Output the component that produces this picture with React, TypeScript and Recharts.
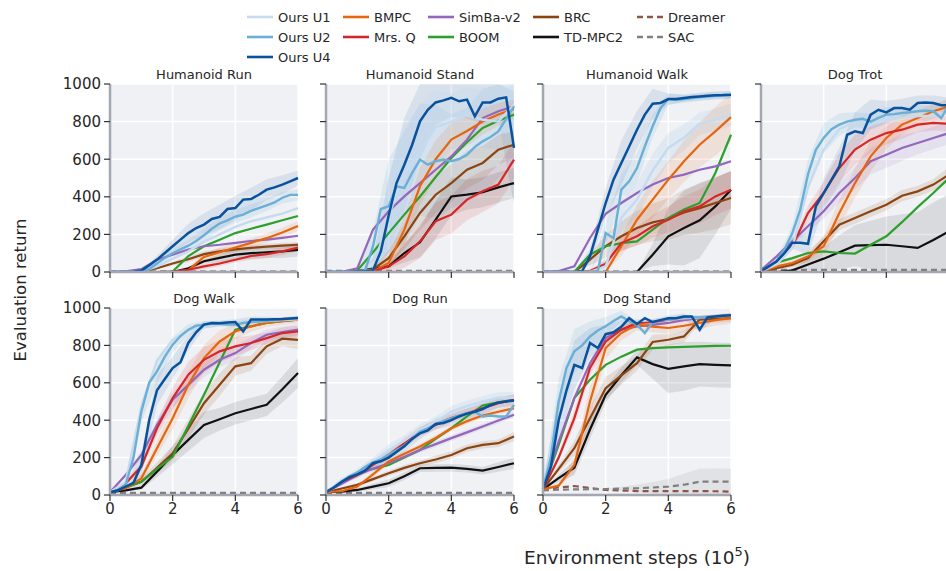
import React from "react";
import { ComposedChart, Line, Area, XAxis, YAxis, CartesianGrid } from "recharts";

// evaluation points (10^5 env steps)
const STEPS = [0, 0.5, 1, 1.5, 2, 2.5, 3, 3.5, 4, 4.5, 5, 5.5, 6];
const FINE_STEPS = [0, 0.25, 0.5, 0.75, 1, 1.25, 1.5, 1.75, 2, 2.25, 2.5, 2.75, 3, 3.25, 3.5, 3.75, 4, 4.25, 4.5, 4.75, 5, 5.25, 5.5, 5.75, 6];
const X_TICKS = [0, 2, 4, 6];
const Y_TICKS = [0, 200, 400, 600, 800, 1000];

const FONT = "'DejaVu Sans', sans-serif";

type Series = { key: string; name: string; color: string; dash?: string; width: number };

const SERIES: Series[] = [
  { key: "dreamer", name: "Dreamer", color: "#8c564b", dash: "6 4", width: 2.2 },
  { key: "sac", name: "SAC", color: "#7f7f7f", dash: "6 4", width: 2.2 },
  { key: "tdmpc", name: "TD-MPC2", color: "#111111", width: 2.2 },
  { key: "brc", name: "BRC", color: "#8b4513", width: 2.2 },
  { key: "boom", name: "BOOM", color: "#2ca02c", width: 2.2 },
  { key: "simba", name: "SimBa-v2", color: "#9467bd", width: 2.2 },
  { key: "bmpc", name: "BMPC", color: "#e6650f", width: 2.2 },
  { key: "mrsq", name: "Mrs. Q", color: "#d62728", width: 2.2 },
  { key: "u1", name: "Ours U1", color: "#c6dbef", width: 2.4 },
  { key: "u2", name: "Ours U2", color: "#6baed6", width: 2.4 },
  { key: "u4", name: "Ours U4", color: "#08519c", width: 2.5 },
];

const BAND_OPACITY: Record<string, number> = {
  u1: 0.35, u2: 0.15, u4: 0.1, bmpc: 0.12, mrsq: 0.12, simba: 0.12, brc: 0.12, tdmpc: 0.1, sac: 0.12,
};

const LEGEND_COLUMNS = [
  ["u1", "u2", "u4"],
  ["bmpc", "mrsq"],
  ["simba", "boom"],
  ["brc", "tdmpc"],
  ["dreamer", "sac"],
];

type PanelData = {
  title: string;
  coarse: Record<string, number[]>; // on STEPS
  fine: Record<string, number[]>; // on FINE_STEPS
  spread: Record<string, number[]>; // band half-width on STEPS
};

const humanoidRun: PanelData = {
  title: "Humanoid Run",
  coarse: {
    u1: [0, 0, 0, 30, 70, 110, 160, 200, 240, 270, 290, 310, 340],
    bmpc: [0, 0, 0, 0, 0, 10, 80, 105, 130, 155, 180, 210, 245],
    mrsq: [0, 0, 0, 0, 2, 12, 30, 45, 65, 85, 95, 110, 130],
    simba: [0, 3, 15, 65, 92, 120, 137, 145, 155, 165, 172, 182, 193],
    boom: [0, 0, 0, 0, 2, 85, 137, 172, 207, 230, 252, 275, 298],
    brc: [0, 0, 0, 20, 45, 68, 95, 110, 120, 128, 135, 140, 145],
    tdmpc: [0, 0, 0, 0, 0, 20, 57, 75, 92, 100, 105, 110, 118],
    dreamer: [1, 1, 1, 1, 1, 1, 1, 1, 1, 1, 1, 1, 1],
    sac: [2, 2, 2, 2, 2, 2, 2, 2, 2, 2, 2, 2, 2],
  },
  fine: {
    u4: [0, 0, 0, 2, 8, 35, 66, 101, 137, 172, 207, 234, 252, 282, 293, 335, 340, 385, 388, 411, 438, 450, 465, 482, 500],
    u2: [0, 0, 0, 0, 2, 15, 45, 75, 100, 120, 140, 165, 195, 230, 258, 275, 295, 305, 325, 340, 355, 370, 395, 410, 410],
  },
  spread: {
    u4: [0, 0, 0, 20, 35, 50, 60, 65, 65, 60, 55, 50, 40],
    u2: [0, 0, 0, 15, 25, 30, 35, 35, 35, 35, 30, 30, 30],
    bmpc: [0, 0, 0, 0, 0, 10, 20, 25, 25, 25, 25, 25, 25],
    mrsq: [0, 0, 0, 0, 0, 10, 15, 15, 15, 20, 20, 20, 20],
    brc: [0, 0, 0, 5, 10, 15, 15, 15, 15, 15, 15, 15, 15],
    tdmpc: [0, 0, 0, 0, 0, 0, 10, 20, 30, 30, 30, 35, 35],
  },
};

const humanoidStand: PanelData = {
  title: "Humanoid Stand",
  coarse: {
    u1: [0, 0, 0, 10, 300, 520, 640, 770, 800, 835, 810, 800, 890],
    bmpc: [0, 0, 0, 3, 48, 225, 456, 600, 704, 750, 800, 838, 867],
    mrsq: [0, 0, 0, 3, 30, 83, 163, 270, 305, 385, 429, 465, 598],
    simba: [0, 0, 20, 225, 323, 402, 473, 544, 615, 704, 819, 855, 881],
    boom: [0, 0, 8, 105, 207, 305, 402, 505, 606, 690, 766, 805, 837],
    brc: [0, 0, 2, 15, 74, 190, 314, 411, 473, 544, 580, 651, 677],
    tdmpc: [0, 0, 3, 18, 30, 101, 158, 278, 402, 412, 424, 450, 473],
    dreamer: [3, 3, 3, 3, 3, 3, 3, 3, 3, 3, 3, 3, 3],
    sac: [6, 6, 6, 6, 6, 6, 6, 6, 6, 6, 6, 6, 6],
  },
  fine: {
    u4: [0, 0, 0, 0, 2, 3, 10, 110, 300, 473, 571, 677, 801, 863, 902, 913, 926, 908, 917, 828, 902, 902, 922, 929, 660],
    u2: [0, 0, 0, 0, 2, 10, 137, 335, 350, 456, 447, 527, 598, 571, 589, 598, 589, 601, 624, 665, 695, 718, 748, 814, 881],
  },
  spread: {
    u4: [0, 0, 0, 60, 200, 250, 200, 120, 100, 100, 120, 120, 300],
    u2: [0, 0, 0, 80, 250, 300, 300, 300, 250, 250, 280, 250, 300],
    u1: [0, 0, 0, 50, 200, 250, 250, 200, 150, 150, 150, 150, 150],
    bmpc: [0, 0, 0, 10, 40, 80, 100, 100, 90, 80, 70, 60, 50],
    mrsq: [0, 0, 0, 10, 30, 60, 90, 100, 100, 110, 110, 100, 100],
    brc: [0, 0, 0, 10, 40, 70, 90, 100, 100, 100, 90, 80, 70],
    tdmpc: [0, 0, 0, 0, 10, 50, 80, 100, 100, 80, 80, 80, 80],
  },
};

const humanoidWalk: PanelData = {
  title: "Humanoid Walk",
  coarse: {
    u1: [0, 0, 0, 0, 30, 290, 385, 540, 660, 715, 790, 810, 837],
    bmpc: [0, 0, 0, 0, 0, 137, 278, 385, 491, 589, 677, 748, 824],
    mrsq: [0, 0, 0, 5, 44, 154, 190, 243, 278, 323, 349, 402, 438],
    simba: [0, 5, 30, 181, 310, 367, 420, 465, 500, 518, 544, 562, 589],
    boom: [0, 0, 2, 92, 137, 154, 163, 225, 287, 332, 367, 527, 730],
    brc: [0, 0, 0, 66, 137, 190, 234, 264, 282, 317, 340, 367, 394],
    tdmpc: [0, 0, 0, 0, 0, 0, 0, 92, 190, 234, 275, 349, 438],
    dreamer: [1, 1, 1, 1, 1, 1, 1, 1, 1, 1, 1, 1, 1],
    sac: [2, 2, 2, 2, 2, 2, 2, 2, 2, 2, 2, 2, 2],
  },
  fine: {
    u4: [0, 0, 0, 0, 0, 5, 83, 225, 367, 491, 580, 668, 757, 837, 895, 899, 920, 920, 926, 931, 934, 937, 940, 941, 943],
    u2: [0, 0, 0, 0, 0, 0, 0, 5, 207, 180, 438, 482, 553, 668, 775, 872, 920, 915, 920, 925, 930, 933, 937, 939, 941],
  },
  spread: {
    u4: [0, 0, 0, 40, 80, 120, 100, 80, 30, 20, 20, 20, 20],
    u2: [0, 0, 0, 0, 60, 80, 80, 60, 30, 20, 20, 20, 20],
    u1: [0, 0, 0, 0, 40, 80, 90, 90, 80, 70, 60, 60, 60],
    bmpc: [0, 0, 0, 0, 0, 50, 80, 100, 100, 110, 120, 130, 130],
    brc: [0, 0, 0, 30, 60, 80, 90, 100, 110, 120, 130, 140, 140],
    mrsq: [0, 0, 0, 10, 20, 40, 50, 60, 70, 80, 90, 100, 100],
    tdmpc: [0, 0, 0, 0, 0, 0, 0, 60, 150, 200, 200, 150, 100],
  },
};

const dogTrot: PanelData = {
  title: "Dog Trot",
  coarse: {
    u1: [5, 40, 130, 450, 650, 760, 800, 800, 810, 820, 830, 830, 850],
    bmpc: [0, 30, 48, 83, 137, 314, 473, 615, 713, 784, 819, 855, 881],
    mrsq: [10, 48, 137, 314, 420, 553, 651, 704, 739, 757, 784, 793, 789],
    simba: [10, 83, 163, 243, 323, 420, 500, 589, 624, 660, 686, 713, 739],
    boom: [0, 50, 74, 101, 110, 101, 98, 145, 190, 265, 345, 420, 500],
    brc: [0, 20, 39, 74, 163, 252, 287, 323, 358, 406, 429, 465, 518],
    tdmpc: [0, 0, 9, 40, 71, 105, 140, 143, 145, 137, 128, 170, 216],
    dreamer: [10, 10, 10, 10, 10, 10, 10, 10, 10, 10, 10, 10, 10],
    sac: [12, 12, 12, 12, 12, 12, 12, 12, 12, 12, 12, 12, 12],
  },
  fine: {
    u4: [5, 30, 57, 101, 155, 155, 150, 349, 420, 491, 562, 730, 748, 739, 837, 863, 849, 872, 872, 863, 899, 902, 899, 887, 887],
    u2: [5, 30, 60, 120, 207, 330, 520, 650, 713, 760, 784, 800, 810, 815, 800, 820, 837, 840, 846, 850, 855, 858, 855, 819, 890],
  },
  spread: {
    u4: [0, 10, 30, 60, 80, 100, 100, 80, 60, 50, 40, 40, 40],
    u2: [0, 10, 40, 80, 80, 60, 40, 40, 40, 30, 30, 30, 30],
    mrsq: [0, 10, 20, 40, 60, 80, 80, 70, 60, 50, 40, 40, 40],
    bmpc: [0, 10, 20, 30, 50, 70, 80, 80, 60, 50, 40, 40, 40],
    simba: [0, 10, 20, 30, 40, 50, 60, 70, 70, 70, 60, 60, 60],
    brc: [0, 10, 15, 20, 30, 30, 30, 30, 30, 30, 30, 30, 40],
    tdmpc: [0, 0, 5, 30, 60, 90, 110, 130, 150, 170, 190, 200, 200],
  },
};

const dogWalk: PanelData = {
  title: "Dog Walk",
  coarse: {
    u1: [15, 70, 470, 720, 830, 880, 905, 915, 920, 925, 930, 935, 940],
    bmpc: [15, 36, 89, 250, 411, 589, 732, 821, 875, 902, 920, 930, 938],
    mrsq: [15, 63, 152, 357, 518, 643, 723, 768, 795, 813, 839, 866, 875],
    simba: [15, 107, 214, 375, 509, 589, 670, 723, 759, 813, 857, 871, 884],
    boom: [15, 40, 71, 140, 205, 370, 536, 710, 884, 902, 920, 930, 938],
    brc: [15, 40, 71, 145, 223, 355, 491, 590, 688, 705, 795, 836, 830],
    tdmpc: [15, 25, 39, 125, 214, 295, 375, 405, 437, 460, 482, 565, 652],
    dreamer: [10, 10, 10, 10, 10, 10, 10, 10, 10, 10, 10, 10, 10],
    sac: [12, 12, 12, 12, 12, 12, 12, 12, 12, 12, 12, 12, 12],
  },
  fine: {
    u4: [15, 25, 45, 65, 161, 400, 560, 620, 679, 710, 813, 870, 911, 920, 918, 922, 925, 875, 938, 938, 938, 940, 941, 944, 946],
    u2: [15, 25, 54, 200, 446, 600, 661, 740, 804, 850, 884, 905, 911, 915, 915, 912, 911, 920, 925, 928, 932, 935, 938, 942, 946],
  },
  spread: {
    u4: [0, 10, 60, 80, 60, 40, 20, 15, 15, 15, 15, 10, 10],
    u2: [0, 10, 60, 60, 40, 30, 20, 15, 15, 15, 10, 10, 10],
    bmpc: [0, 10, 20, 40, 60, 70, 70, 60, 40, 30, 20, 20, 20],
    mrsq: [0, 10, 20, 40, 60, 70, 70, 60, 50, 40, 30, 30, 30],
    simba: [0, 10, 20, 30, 40, 40, 40, 40, 40, 30, 30, 30, 30],
    brc: [0, 10, 20, 30, 40, 50, 60, 60, 50, 40, 40, 40, 50],
    tdmpc: [0, 5, 10, 30, 50, 60, 70, 60, 60, 60, 60, 70, 80],
  },
};

const dogRun: PanelData = {
  title: "Dog Run",
  coarse: {
    u1: [15, 80, 120, 175, 240, 290, 350, 390, 446, 475, 500, 520, 520],
    bmpc: [15, 20, 45, 110, 179, 220, 259, 305, 357, 395, 425, 445, 464],
    mrsq: [15, 71, 107, 161, 214, 277, 339, 375, 411, 437, 464, 491, 509],
    simba: [15, 60, 107, 140, 170, 205, 241, 272, 304, 335, 366, 398, 429],
    boom: [15, 70, 121, 140, 161, 200, 241, 300, 357, 420, 479, 495, 509],
    brc: [15, 35, 54, 85, 116, 145, 170, 190, 214, 250, 268, 277, 313],
    tdmpc: [15, 18, 27, 45, 63, 100, 143, 145, 146, 140, 130, 150, 170],
    dreamer: [10, 10, 10, 10, 10, 10, 10, 10, 10, 10, 10, 10, 10],
    sac: [12, 12, 12, 12, 12, 12, 12, 12, 12, 12, 12, 12, 12],
  },
  fine: {
    u4: [15, 40, 70, 95, 110, 130, 170, 180, 200, 230, 260, 300, 330, 345, 380, 385, 400, 420, 435, 445, 460, 480, 495, 500, 505],
    u2: [15, 40, 70, 100, 120, 150, 175, 190, 215, 240, 265, 300, 340, 355, 380, 395, 410, 425, 437, 445, 420, 425, 420, 420, 482],
  },
  spread: {
    u4: [0, 10, 20, 25, 30, 30, 30, 30, 30, 30, 30, 30, 30],
    u1: [0, 10, 20, 25, 30, 30, 30, 30, 30, 30, 30, 30, 30],
    mrsq: [0, 10, 15, 20, 20, 25, 25, 25, 25, 25, 25, 25, 30],
    bmpc: [0, 10, 10, 15, 15, 15, 15, 15, 15, 15, 15, 15, 15],
    simba: [0, 10, 10, 15, 15, 15, 15, 15, 15, 15, 15, 15, 15],
    brc: [0, 5, 10, 10, 15, 15, 15, 20, 20, 20, 20, 20, 25],
    tdmpc: [0, 5, 10, 15, 20, 20, 20, 20, 20, 20, 20, 25, 30],
  },
};

const dogStand: PanelData = {
  title: "Dog Stand",
  coarse: {
    u1: [30, 500, 760, 850, 900, 930, 930, 935, 940, 945, 950, 955, 960],
    bmpc: [30, 50, 161, 500, 786, 866, 911, 900, 893, 905, 920, 935, 946],
    mrsq: [30, 200, 411, 680, 821, 884, 920, 925, 938, 945, 950, 955, 961],
    simba: [30, 286, 518, 705, 839, 884, 902, 910, 920, 935, 946, 955, 961],
    boom: [30, 268, 518, 616, 696, 740, 777, 785, 789, 792, 795, 797, 798],
    brc: [30, 140, 250, 410, 571, 640, 705, 818, 830, 848, 938, 942, 946],
    tdmpc: [30, 90, 146, 350, 536, 640, 736, 700, 675, 688, 700, 696, 693],
    dreamer: [30, 40, 48, 38, 27, 24, 21, 21, 21, 21, 21, 20, 18],
    sac: [25, 28, 30, 31, 32, 34, 36, 40, 45, 55, 71, 72, 71],
  },
  fine: {
    u4: [30, 150, 400, 560, 696, 679, 813, 786, 860, 870, 900, 946, 915, 946, 925, 935, 945, 945, 955, 955, 884, 950, 955, 958, 961],
    u2: [30, 200, 500, 680, 768, 800, 848, 880, 902, 930, 955, 930, 911, 866, 925, 935, 940, 945, 950, 950, 950, 952, 955, 958, 961],
  },
  spread: {
    u4: [0, 120, 130, 80, 50, 30, 20, 15, 15, 15, 15, 10, 10],
    u2: [0, 120, 120, 80, 50, 30, 20, 15, 15, 15, 10, 10, 10],
    bmpc: [0, 10, 40, 80, 60, 40, 30, 30, 30, 30, 30, 30, 30],
    mrsq: [0, 20, 40, 40, 30, 20, 15, 15, 10, 10, 10, 10, 10],
    brc: [0, 20, 40, 60, 60, 50, 40, 40, 30, 30, 20, 20, 20],
    tdmpc: [0, 20, 40, 50, 40, 40, 40, 80, 130, 130, 120, 120, 120],
    sac: [0, 0, 0, 0, 0, 10, 20, 30, 40, 60, 70, 70, 70],
  },
};

// merge coarse + fine series into one table on the fine grid
function buildRows(p: PanelData) {
  return FINE_STEPS.map((x, i) => {
    const row: any = { x };
    for (const k in p.fine) row[k] = p.fine[k][i];
    if (i % 2 === 0) {
      const j = i / 2;
      for (const k in p.coarse) row[k] = p.coarse[k][j];
      for (const k in p.spread) {
        const v = row[k];
        const s = p.spread[k][j];
        row[k + "Band"] = [Math.max(0, v - s), Math.min(1000, v + s)];
      }
    }
    return row;
  });
}

const PLOT_W = 188;
const AXIS_GRAY = "#a2a7b1";
const TEXT = "#262626";

function Panel({ data, left, top, plotH, showX, showY }: {
  data: PanelData; left: number; top: number; plotH: number; showX: boolean; showY: boolean;
}) {
  const rows = buildRows(data);
  const colorOf = (k: string) => SERIES.find((s) => s.key === k)!.color;
  return (
    <>
      <div
        style={{
          position: "absolute", left, top: top - 16, width: PLOT_W, textAlign: "center",
          fontFamily: FONT, fontSize: 13, color: TEXT, lineHeight: "14px",
        }}
      >
        {data.title}
      </div>
      <div style={{ position: "absolute", left: left - 60, top: top - 10 }}>
        <ComposedChart
          width={PLOT_W + 70}
          height={plotH + 40}
          data={rows}
          margin={{ top: 10, right: 10, left: 0, bottom: 0 }}
        >
          <CartesianGrid fill="#eff1f4" stroke="#ffffff" strokeWidth={1.5} />
          <XAxis
            type="number"
            dataKey="x"
            domain={[0, 6]}
            ticks={X_TICKS}
            height={30}
            axisLine={{ stroke: AXIS_GRAY, strokeWidth: 2.5 }}
            tickLine={{ stroke: "#333", strokeWidth: 1.2 }}
            tickSize={6}
            tickMargin={2}
            tick={{ fill: TEXT, fontSize: 15, fontFamily: FONT }}
            tickFormatter={(v) => (showX ? String(v) : "")}
          />
          <YAxis
            type="number"
            domain={[0, 1000]}
            ticks={Y_TICKS}
            width={60}
            axisLine={{ stroke: AXIS_GRAY, strokeWidth: 2.5 }}
            tickLine={{ stroke: "#333", strokeWidth: 1.2 }}
            tickSize={6}
            tickMargin={3}
            tick={{ fill: TEXT, fontSize: 15, fontFamily: FONT }}
            tickFormatter={(v) => (showY ? String(v) : "")}
            allowDataOverflow
          />
          {Object.keys(data.spread).map((k) => (
            <Area
              key={k + "Band"}
              dataKey={k + "Band"}
              stroke="none"
              fill={colorOf(k)}
              fillOpacity={BAND_OPACITY[k]}
              connectNulls
              isAnimationActive={false}
              activeDot={false}
            />
          ))}
          {SERIES.map((s) => (
            <Line
              key={s.key}
              dataKey={s.key}
              name={s.name}
              stroke={s.color}
              strokeWidth={s.width}
              strokeDasharray={s.dash}
              dot={false}
              activeDot={false}
              connectNulls
              isAnimationActive={false}
            />
          ))}
        </ComposedChart>
      </div>
    </>
  );
}

function Legend() {
  const colLefts = [247, 343, 428, 533, 637];
  return (
    <>
      {LEGEND_COLUMNS.map((col, ci) =>
        col.map((k, ri) => {
          const s = SERIES.find((x) => x.key === k)!;
          return (
            <div
              key={k}
              style={{
                position: "absolute", left: colLefts[ci], top: 7 + ri * 20, height: 20,
                display: "flex", alignItems: "center", fontFamily: FONT, fontSize: 13, color: TEXT,
                whiteSpace: "nowrap",
              }}
            >
              <svg width={26} height={20} style={{ marginRight: 5 }}>
                <line x1={0} y1={10} x2={26} y2={10} stroke={s.color} strokeWidth={2.6} strokeDasharray={s.dash} />
              </svg>
              {s.name}
            </div>
          );
        })
      )}
    </>
  );
}

export default function App() {
  const row1 = 84;
  const row2 = 308;
  return (
    <div
      style={{
        position: "absolute", left: 0, top: 0, width: 946, height: 571, overflow: "hidden",
        background: "#ffffff",
      }}
    >
      <Legend />
      <Panel data={humanoidRun} left={110} top={row1} plotH={188} showX={false} showY />
      <Panel data={humanoidStand} left={326} top={row1} plotH={188} showX={false} showY={false} />
      <Panel data={humanoidWalk} left={543} top={row1} plotH={188} showX={false} showY={false} />
      <Panel data={dogTrot} left={761} top={row1} plotH={188} showX={false} showY={false} />
      <Panel data={dogWalk} left={110} top={row2} plotH={187} showX showY />
      <Panel data={dogRun} left={326} top={row2} plotH={187} showX showY={false} />
      <Panel data={dogStand} left={543} top={row2} plotH={187} showX showY={false} />
      <div
        style={{
          position: "absolute", left: 20, top: 290, transform: "translate(-50%, -50%) rotate(-90deg)",
          fontFamily: FONT, fontSize: 16.5, color: TEXT, whiteSpace: "nowrap",
        }}
      >
        Evaluation return
      </div>
      <div
        style={{
          position: "absolute", left: 637, top: 556, transform: "translate(-50%, -50%)",
          fontFamily: FONT, fontSize: 18.5, color: TEXT, whiteSpace: "nowrap",
        }}
      >
        Environment steps (10<sup style={{ fontSize: 13 }}>5</sup>)
      </div>
    </div>
  );
}
